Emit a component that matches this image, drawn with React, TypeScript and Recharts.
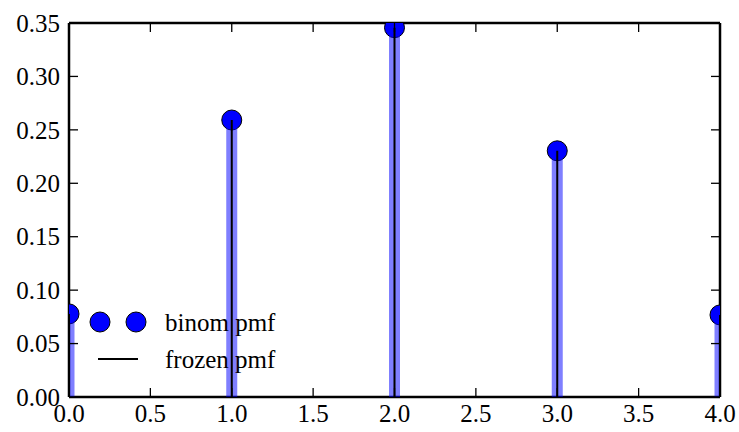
import React from 'react';
import { ComposedChart, Scatter, Line, XAxis, YAxis, Legend } from 'recharts';

const xs = [0, 1, 2, 3, 4];
const pmf = [0.07776, 0.2592, 0.3456, 0.2304, 0.0768];
const xTicks = [0, 0.5, 1, 1.5, 2, 2.5, 3, 3.5, 4];
const yTicks = [0, 0.05, 0.1, 0.15, 0.2, 0.25, 0.3, 0.35];
const legendLabels = ['binom pmf', 'frozen pmf'];

const FONT = '"Liberation Serif", "DejaVu Serif", serif';
const TICK_LEN = 9;
const textStyle = { fontFamily: FONT, fontSize: 25, fill: '#000' };

const points = xs.map((x, i) => ({ x, y: pmf[i] }));
// vertical segments from 0 to pmf, separated by nulls so the line breaks
const segments = xs.flatMap((x, i) => [
  { x, y: 0 },
  { x, y: pmf[i] },
  { x, y: null },
]);

const BottomTick = (props: any) => {
  const { x, y, payload } = props;
  return (
    <g>
      <line x1={x} y1={y} x2={x} y2={y - TICK_LEN} stroke="#000" strokeWidth={1.3} />
      <text x={x} y={y + 25} textAnchor="middle" style={textStyle}>
        {payload.value.toFixed(1)}
      </text>
    </g>
  );
};

const TopTick = (props: any) => {
  const { x, y } = props;
  return <line x1={x} y1={y} x2={x} y2={y + TICK_LEN} stroke="#000" strokeWidth={1.3} />;
};

const LeftTick = (props: any) => {
  const { x, y, payload } = props;
  return (
    <g>
      <line x1={x} y1={y} x2={x + TICK_LEN} y2={y} stroke="#000" strokeWidth={1.3} />
      <text x={x - 9} y={y} dy="0.35em" textAnchor="end" style={textStyle}>
        {payload.value.toFixed(2)}
      </text>
    </g>
  );
};

const RightTick = (props: any) => {
  const { x, y } = props;
  return <line x1={x} y1={y} x2={x - TICK_LEN} y2={y} stroke="#000" strokeWidth={1.3} />;
};

const Marker = (props: any) => {
  const { cx, cy } = props;
  return <circle cx={cx} cy={cy} r={10} fill="#0000ff" stroke="#000" strokeWidth={1} />;
};

const NoMark = () => <g />;

const LegendBox = () => (
  <svg width={260} height={80}>
    <circle cx={20} cy={22} r={10} fill="#0000ff" stroke="#000" strokeWidth={1} />
    <circle cx={56} cy={22} r={10} fill="#0000ff" stroke="#000" strokeWidth={1} />
    <text x={85} y={22} dy="0.35em" style={textStyle}>
      {legendLabels[0]}
    </text>
    <line x1={18} y1={59} x2={58} y2={59} stroke="#000" strokeWidth={2} />
    <text x={85} y={59} dy="0.35em" style={textStyle}>
      {legendLabels[1]}
    </text>
  </svg>
);

export default function App() {
  return (
    <div style={{ position: 'absolute', left: 0, top: 0, width: 739, height: 432, background: '#fff' }}>
      <ComposedChart width={739} height={432} margin={{ top: 22, right: 18, bottom: 0, left: 0 }}>
        <XAxis
          dataKey="x"
          type="number"
          domain={[0, 4]}
          ticks={xTicks}
          allowDataOverflow
          height={35}
          tickSize={0}
          tickMargin={0}
          tickLine={false}
          axisLine={{ stroke: '#000', strokeWidth: 2.5 }}
          tick={<BottomTick />}
          interval={0}
        />
        <XAxis
          xAxisId="top"
          dataKey="x"
          orientation="top"
          type="number"
          domain={[0, 4]}
          ticks={xTicks}
          allowDataOverflow
          height={1}
          tickSize={0}
          tickMargin={0}
          tickLine={false}
          axisLine={{ stroke: '#000', strokeWidth: 2.5 }}
          tick={<TopTick />}
          interval={0}
        />
        <YAxis
          type="number"
          domain={[0, 0.35]}
          ticks={yTicks}
          allowDataOverflow
          width={69}
          tickSize={0}
          tickMargin={0}
          tickLine={false}
          axisLine={{ stroke: '#000', strokeWidth: 2.5 }}
          tick={<LeftTick />}
          interval={0}
        />
        <YAxis
          yAxisId="right"
          orientation="right"
          type="number"
          domain={[0, 0.35]}
          ticks={yTicks}
          allowDataOverflow
          width={1}
          tickSize={0}
          tickMargin={0}
          tickLine={false}
          axisLine={{ stroke: '#000', strokeWidth: 2.5 }}
          tick={<RightTick />}
          interval={0}
        />
        {/* invisible series so the top and right frame axes get drawn */}
        <Scatter
          xAxisId="top"
          yAxisId="right"
          data={points}
          dataKey="y"
          shape={<NoMark />}
          isAnimationActive={false}
        />
        <Scatter data={points} dataKey="y" shape={<Marker />} isAnimationActive={false} zIndex={600} />
        <Line
          data={segments}
          dataKey="y"
          stroke="#0000ff"
          strokeOpacity={0.5}
          strokeWidth={11}
          strokeLinecap="butt"
          dot={false}
          activeDot={false}
          connectNulls={false}
          isAnimationActive={false}
          zIndex={700}
        />
        <Line
          data={segments}
          dataKey="y"
          stroke="#000"
          strokeWidth={2}
          strokeLinecap="butt"
          dot={false}
          activeDot={false}
          connectNulls={false}
          isAnimationActive={false}
          zIndex={710}
        />
        <Legend
          layout="horizontal"
          verticalAlign="middle"
          align="center"
          content={<LegendBox />}
          wrapperStyle={{ left: 80, top: 300, width: 260, height: 80 }}
        />
      </ComposedChart>
    </div>
  );
}
